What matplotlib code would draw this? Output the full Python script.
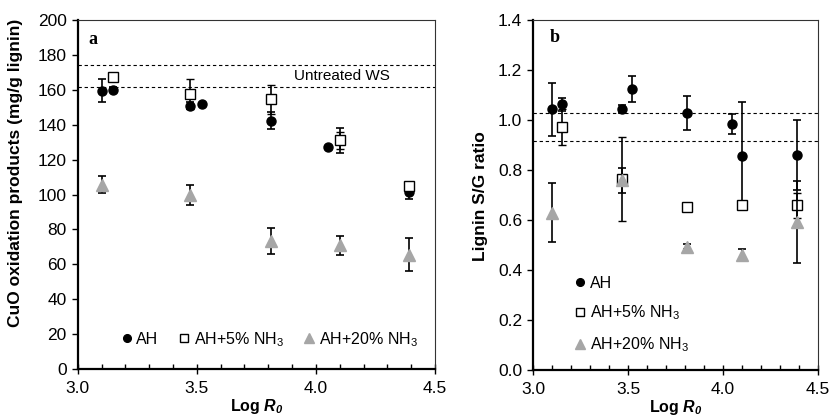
import numpy as np
import matplotlib
matplotlib.use('Agg')
import matplotlib.pyplot as plt
from matplotlib.ticker import MultipleLocator

plt.rcParams['font.family'] = 'Liberation Sans'
plt.rcParams['mathtext.fontset'] = 'custom'
plt.rcParams['mathtext.bf'] = 'Liberation Sans:bold:italic'
plt.rcParams['mathtext.it'] = 'Liberation Sans:italic'
plt.rcParams['mathtext.rm'] = 'Liberation Sans'

# severity (log R0)
x_ah = [3.10, 3.15, 3.47, 3.52, 3.81, 4.05, 4.10, 4.39]
x_nh = [3.15, 3.47, 3.81, 4.10, 4.39]
x_tri = [3.10, 3.47, 3.81, 4.10, 4.39]

# panel a: CuO oxidation products (mg/g lignin)
cuo_ah = [159.5, 160.0, 151.0, 152.0, 142.3, 127.0, 131.0, 101.3]
cuo_ah_err = [6.5, 1.5, 2.0, 0.5, 5.0, 0.5, 7.0, 4.0]
cuo_5 = [167.4, 157.5, 154.5, 131.0, 105.0]
cuo_5_err = [1.0, 8.5, 8.5, 5.0, 1.0]
cuo_20 = [105.7, 99.7, 73.2, 71.0, 65.5]
cuo_20_err = [4.8, 5.8, 7.5, 5.5, 9.5]
cuo_untreated = [174.1, 161.5]

# panel b: lignin S/G ratio
sg_ah = [1.043, 1.063, 1.044, 1.124, 1.027, 0.984, 0.856, 0.86]
sg_ah_err = [0.105, 0.025, 0.015, 0.051, 0.068, 0.04, 0.215, 0.14]
sg_5 = [0.973, 0.763, 0.653, 0.66, 0.66]
sg_5_err = [0.073, 0.168, 0.015, 0.01, 0.05]
sg_20 = [0.63, 0.76, 0.493, 0.46, 0.593]
sg_20_err = [0.118, 0.05, 0.01, 0.025, 0.165]
sg_untreated = [1.027, 0.917]

gray = '#a6a6a6'

fig = plt.figure(figsize=(8.31, 4.19), dpi=100)
axa = fig.add_axes([0.0935, 0.1193, 0.43, 0.8329])
axb = fig.add_axes([0.6418, 0.117, 0.3422, 0.835])

def style(ax):
    ax.set_xlim(3.0, 4.5)
    ax.xaxis.set_major_locator(MultipleLocator(0.5))
    ax.xaxis.set_minor_locator(MultipleLocator(0.1))
    ax.xaxis.set_major_formatter(plt.FormatStrFormatter('%.1f'))
    ax.tick_params(axis='x', which='major', direction='inout', length=7, width=1, labelsize=12.5, pad=5)
    ax.tick_params(axis='x', which='minor', direction='in', length=3.5, width=1)
    ax.tick_params(axis='y', which='major', direction='out', length=4, width=1, labelsize=12.5, pad=4)
    for s in ['left', 'bottom']:
        ax.spines[s].set_linewidth(1.6)
    for s in ['top', 'right']:
        ax.spines[s].set_linewidth(0.8)
        ax.spines[s].set_color('#333333')
    ax.set_xlabel(r'Log $\mathbf{R}_\mathbf{0}$', fontsize=11.5, fontweight='bold', labelpad=1)

def draw(ax, ah, ah_err, p5, p5_err, p20, p20_err):
    ax.errorbar(x_ah, ah, yerr=ah_err, fmt='o', color='black', ms=6.5,
                ecolor='black', elinewidth=1.2, capsize=3.2, capthick=1.2, zorder=3, label='AH')
    ax.errorbar(x_nh, p5, yerr=p5_err, fmt='s', mfc='white', mec='black', mew=1, ms=7,
                ecolor='black', elinewidth=1.2, capsize=3.2, capthick=1.2, zorder=4, label='AH+5% NH$_3$')
    ax.errorbar(x_tri, p20, yerr=p20_err, fmt='^', color=gray, ms=8.5,
                ecolor='black', elinewidth=1.2, capsize=3.2, capthick=1.2, zorder=5, label='AH+20% NH$_3$')

# panel a
style(axa)
for yv in cuo_untreated:
    axa.axhline(yv, color='black', ls=(0, (3, 2.5)), lw=0.8, zorder=1)
draw(axa, cuo_ah, cuo_ah_err, cuo_5, cuo_5_err, cuo_20, cuo_20_err)
axa.set_ylim(0, 200)
axa.yaxis.set_major_locator(MultipleLocator(20))
axa.set_ylabel('CuO oxidation products (mg/g lignin)', fontsize=12.5, fontweight='bold')
axa.yaxis.set_label_coords(-0.154, 0.562)
axa.text(3.91, 168, 'Untreated WS', fontsize=11, va='center')
axa.text(3.045, 189, 'a', fontsize=13, fontweight='bold', family='Liberation Serif', va='center')
ha, la = axa.get_legend_handles_labels()
axa.legend([h[0] for h in ha], la, loc='center left', bbox_to_anchor=(0.07, 0.085), ncol=3,
           frameon=False, fontsize=11.5, handletextpad=0.0, columnspacing=1.0, handlelength=1.2,
           markerscale=0.85)

# panel b
style(axb)
for yv in sg_untreated:
    axb.axhline(yv, color='black', ls=(0, (3, 2.5)), lw=0.8, zorder=1)
draw(axb, sg_ah, sg_ah_err, sg_5, sg_5_err, sg_20, sg_20_err)
axb.set_ylim(0, 1.4)
axb.yaxis.set_major_locator(MultipleLocator(0.2))
axb.yaxis.set_major_formatter(plt.FormatStrFormatter('%.1f'))
axb.set_ylabel('Lignin S/G ratio', fontsize=12.5, fontweight='bold')
axb.yaxis.set_label_coords(-0.159, 0.496)
axb.text(3.085, 1.33, 'b', fontsize=13, fontweight='bold', family='Liberation Serif', va='center')
hb, lb = axb.get_legend_handles_labels()
axb.legend([h[0] for h in hb], lb, loc='lower left', bbox_to_anchor=(0.08, 0.005), ncol=1,
           frameon=False, fontsize=11.5, handletextpad=0.0, labelspacing=0.8, handlelength=1.2,
           markerscale=0.85)

fig.savefig('out.png', dpi=100)
